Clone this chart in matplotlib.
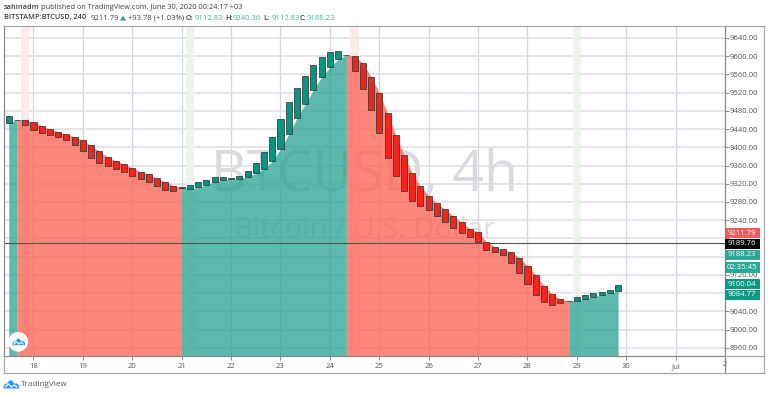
import matplotlib
matplotlib.use("Agg")
import matplotlib.pyplot as plt
from matplotlib.patches import Circle, Polygon, Rectangle
import numpy as np

plt.rcParams['font.family'] = ['Open Sans', 'DejaVu Sans']

W, H = 768, 395

# 4h candles, one every 1/6 day from the 17.5th
first_day = 17.5
opens = [9453, 9461, 9461, 9454.5, 9447, 9440, 9434, 9429, 9423, 9416,
         9404, 9391, 9379, 9370, 9363, 9355, 9346.5, 9341.5, 9332, 9324,
         9316, 9312, 9309, 9312, 9318, 9324, 9328, 9330, 9330.5, 9335.6,
         9343, 9352.5, 9370, 9396, 9429, 9464, 9495, 9526.5, 9554, 9576,
         9593, 9603, 9600.5, 9584.5, 9555, 9520, 9475, 9427, 9382.5, 9343,
         9314, 9293, 9277, 9264, 9249, 9235, 9221, 9214, 9193, 9182,
         9176, 9170, 9158, 9140, 9119, 9096, 9078, 9066, 9063, 9063,
         9068, 9072, 9076.5, 9080, 9084]
closes = [9468, 9460, 9448, 9438, 9431.5, 9427, 9423, 9416, 9406, 9393,
          9377, 9366, 9360, 9353, 9346.5, 9338, 9330.5, 9324, 9314, 9306,
          9305, 9311, 9317, 9323, 9329, 9334, 9334, 9333.5, 9338, 9349,
          9364.5, 9389, 9423, 9463, 9499.5, 9529.6, 9556, 9580, 9597.6, 9609,
          9612, 9602, 9568, 9527, 9482, 9431, 9377, 9337, 9305, 9282,
          9271, 9262.5, 9250, 9236, 9223, 9212, 9203, 9192, 9175, 9170,
          9164, 9147, 9124, 9100, 9075, 9060, 9054, 9058, 9062, 9071.5,
          9076.5, 9081, 9083, 9087.5, 9098.5]

# candle index where the area changes colour
trend_breaks = [0, 1, 21, 41, 68, 74]
trend_up = [True, False, True, False, True]
signal_bars = [2, 22, 42, 69]
signal_up = [False, True, False, True]

price_ticks = list(range(8960, 9641, 40))
hidden_prices = [9080, 9160, 9200]  # covered by the price boxes
day_ticks = list(range(18, 32))
day_labels = [str(d) for d in range(18, 31)] + ['Jul']

price_boxes = [
    ('9211.79', 228.3, 238.3, '#f25a5a'),
    ('9189.76', 238.5, 248.5, '#000000'),
    ('9188.23', 250, 260, '#2aa898'),
    ('02:35:45', 262, 272.7, '#2aa898'),
    ('9100.04', 278.7, 289.3, '#0a9a84'),
    ('9084.77', 289.7, 299.7, '#0a9a84'),
]

days = first_day + np.arange(len(opens)) / 6
opens = np.array(opens)
closes = np.array(closes)

fig = plt.figure(figsize=(W / 100, H / 100), dpi=100)
ax = fig.add_axes([4 / W, 1 - 355.5 / H, 720.5 / W, 329.5 / H])
ax.set_xlim(17.403, 31.988)
ax.set_ylim(8943, 9666.3)
ax.set_facecolor('white')
ax.set_axisbelow(True)

ax.set_yticks(price_ticks)
ax.set_yticklabels(['' if p in hidden_prices else '%.2f' % p for p in price_ticks],
                   color='#555555', fontsize=5.6)
ax.set_xticks(day_ticks)
ax.set_xticklabels(day_labels, color='#555555', fontsize=5.6)
ax.yaxis.tick_right()
ax.tick_params(axis='y', length=3, width=0.6, color='#777777', pad=1)
ax.tick_params(axis='x', length=3, width=0.6, color='#777777', pad=2.5)
ax.grid(True, axis='y', color='#dcdce4', lw=1.1)
ax.grid(True, axis='x', color='#d4d4de', lw=0.9)
for side in ax.spines:
    ax.spines[side].set_color('#8a8a8e')
    ax.spines[side].set_linewidth(0.9)
ax.spines['top'].set_color('#a8a8ac')

# watermark sits under the area
ax.text(0.501, 0.542, 'BTCUSD, 4h', transform=ax.transAxes, fontsize=40,
        color='#d9d9de', ha='center', va='center', zorder=1)
ax.text(0.5, 0.38, 'Bitcoin / U.S. Dollar', transform=ax.transAxes, fontsize=21,
        color='#dededf', ha='center', va='center', zorder=1)

for b, up in zip(signal_bars, signal_up):
    ax.axvspan(days[b] - 1 / 12, days[b] + 1 / 12, color='#eaf4ea' if up else '#fde8e6',
               alpha=0.85, lw=0, zorder=1.5)

for i in range(len(trend_up)):
    a, b = trend_breaks[i], trend_breaks[i + 1]
    ax.fill_between(days[a:b + 1], opens[a:b + 1], 8943,
                    color='#2ea694' if trend_up[i] else '#fe6456', alpha=0.78, lw=0, zorder=2)

ax.axhline(9189.76, color='#555555', lw=0.8, zorder=2.5)

is_up = closes >= opens
ax.bar(days, np.abs(closes - opens), bottom=np.minimum(opens, closes), width=0.122,
       color=np.where(is_up, '#08957f', '#f5241c').tolist(), edgecolor='#2e3a38', lw=0.55, zorder=3)

# the "2" of July falls right on the axis edge, so it is not a regular tick
ax.text(32, -5.5 / 329.5, '2', transform=ax.get_xaxis_transform(), color='#555555', fontsize=5.6,
        ha='center', va='top', clip_on=False)

# overlay in pixel coordinates for the page furniture
ov = fig.add_axes([0, 0, 1, 1], facecolor='none')
ov.set_xlim(0, W)
ov.set_ylim(H, 0)
ov.axis('off')

ov.add_line(plt.Line2D([724.5, 724.5], [355.5, 373], color='#8a8a8e', lw=0.9))
ov.add_line(plt.Line2D([4, 764], [373, 373], color='#a8a8ac', lw=0.9))
ov.add_line(plt.Line2D([4, 4], [355.5, 373], color='#a8a8ac', lw=0.9))
ov.add_line(plt.Line2D([764, 764], [26, 373], color='#a8a8ac', lw=0.9))
ov.add_line(plt.Line2D([724.5, 764], [26, 26], color='#a8a8ac', lw=0.9))
ov.add_line(plt.Line2D([724.5, 764], [355.5, 355.5], color='#a8a8ac', lw=0.9))

for label, top, bottom, colour in price_boxes:
    ov.add_patch(Rectangle((724.8, top), 35.2, bottom - top, color=colour, lw=0))
    ov.text(742.3, (top + bottom) / 2, label, color='white', fontsize=5.6, ha='center', va='center')

dark = '#3a3f4a'
green = '#47b3a1'
ov.text(3.5, 7.5, 'sahinadm', color=dark, fontsize=5.3, fontweight='semibold', va='center')
ov.text(41, 7.5, 'published on TradingView.com, June 30, 2020 00:24:17 +03', color=dark, fontsize=5.35, va='center')
ov.text(3.5, 18, 'BITSTAMP:BTCUSD, 240', color=dark, fontsize=5.35, fontweight='semibold', va='center')
ov.text(90.7, 18, '9211.79', color=dark, fontsize=5.5, va='center')
ov.add_patch(Polygon([[120, 20.5], [126, 20.5], [123, 15.5]], color='#26a69a', lw=0))
ov.text(128, 18, '+93.78 (+1.03%)', color=dark, fontsize=5.5, va='center')
for x0, name, x1, val in [(186, 'O:', 195, '9112.83'), (225, 'H:', 233, '9240.36'),
                          (263, 'L:', 272, '9112.83'), (300, 'C:', 307, '9188.23')]:
    ov.text(x0, 18, name, color=dark, fontsize=5.3, fontweight='semibold', va='center')
    ov.text(x1, 18, val, color=green, fontsize=5.5, va='center')


def logo(cx, cy, s, colour, line):
    cloud = [[-8, 3], [-7, 0], [-4, -1], [-2, -4], [1, -4], [3, -1], [6, -1], [8, 1.5], [8, 4], [-8, 4]]
    zig = [[-6, 2.5], [-3, -0.5], [0, 2.5], [3, 0.5], [5.5, 2.5]]
    ov.add_patch(Polygon(np.array(cloud) * s + [cx, cy], color=colour, lw=0, zorder=6))
    zig = np.array(zig) * s + [cx, cy]
    ov.plot(zig[:, 0], zig[:, 1], color=line, lw=0.8, zorder=7)


ov.add_patch(Circle((18.2, 341.8), 9.8, color='white', lw=0, zorder=5))
logo(18.7, 342, 0.8, '#2e9df0', 'white')
logo(11.3, 384.5, 1.0, '#2e9df0', 'white')
ov.text(20.5, 384, 'TradingView', color='#555c66', fontsize=5.9, va='center')
ov.set_xlim(0, W)
ov.set_ylim(H, 0)

fig.savefig('out.png', dpi=100, facecolor='white')
